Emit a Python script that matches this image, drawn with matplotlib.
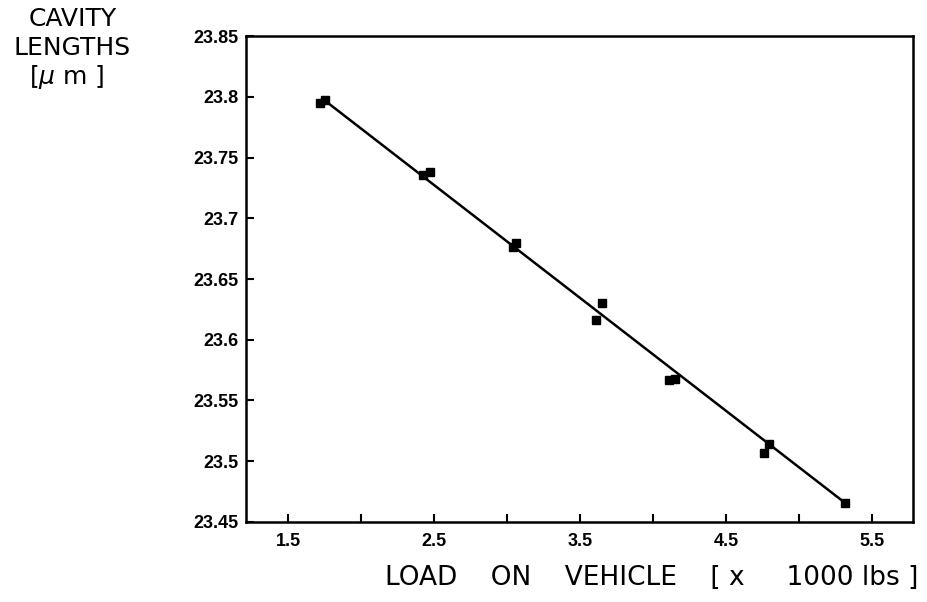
import numpy as np
import matplotlib
matplotlib.use("Agg")
import matplotlib.pyplot as plt
from matplotlib.ticker import MultipleLocator, FormatStrFormatter

# load on vehicle [x 1000 lbs] and cavity length [um], two readings per load
load = [1.72, 1.75, 2.42, 2.47, 3.04, 3.06, 3.61, 3.65, 4.11, 4.15, 4.76, 4.79, 5.31]
cavity = [23.795, 23.797, 23.736, 23.738, 23.676, 23.680, 23.616, 23.630,
          23.567, 23.568, 23.507, 23.514, 23.466]
line_x = [1.75, 5.31]
line_y = [23.797, 23.466]
xticks_major = [1.5, 2.5, 3.5, 4.5, 5.5]
yticks = [23.45, 23.5, 23.55, 23.6, 23.65, 23.7, 23.75, 23.8, 23.85]

plt.rcParams['font.family'] = ['DejaVu Sans']

fig = plt.figure(figsize=(9.28, 6.02), dpi=100)
ax = fig.add_axes([0.265, 0.133, 0.719, 0.807])

ax.plot(line_x, line_y, color='black', lw=1.8)
ax.plot(load, cavity, 's', color='black', markersize=6)

ax.set_xlim(1.21, 5.78)
ax.set_ylim(23.45, 23.85)
ax.set_xticks(xticks_major)
ax.xaxis.set_minor_locator(MultipleLocator(0.5))
ax.set_yticks(yticks)
ax.yaxis.set_major_formatter(FormatStrFormatter('%g'))
ax.xaxis.set_major_formatter(FormatStrFormatter('%g'))

for s in ax.spines.values():
    s.set_linewidth(1.8)
ax.tick_params(axis='both', which='both', direction='in', width=1.5, length=6)
ax.tick_params(axis='x', pad=8)
ax.tick_params(axis='y', pad=5)
for lab in ax.get_xticklabels() + ax.get_yticklabels():
    lab.set_fontweight('bold')
    lab.set_fontsize(13)
    lab.set_family('Liberation Sans')

fig.text(0.078, 0.968, 'CAVITY', ha='center', va='center', fontsize=18)
fig.text(0.078, 0.92, 'LENGTHS', ha='center', va='center', fontsize=18)
fig.text(0.072, 0.872, '[$\\mu$ m ]', ha='center', va='center', fontsize=18)

fig.text(0.99, 0.04, 'LOAD    ON    VEHICLE    [ x     1000 lbs ]',
         ha='right', va='center', fontsize=19)

fig.savefig('out.png', dpi=100)
